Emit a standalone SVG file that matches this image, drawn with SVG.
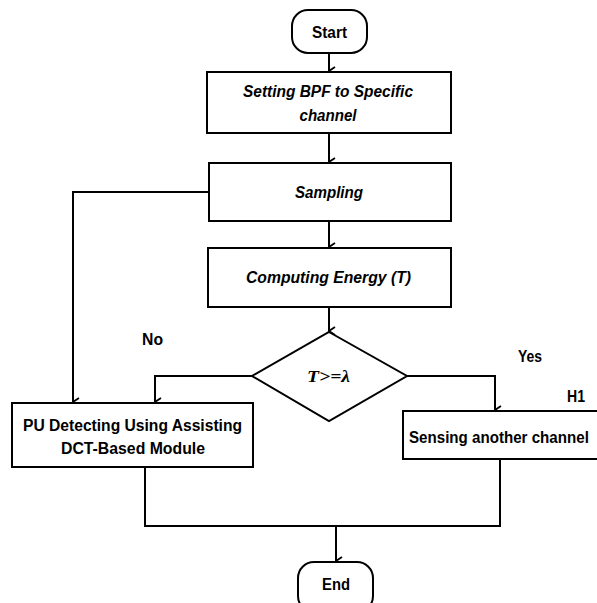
<svg xmlns="http://www.w3.org/2000/svg" width="597" height="603" viewBox="0 0 597 603">
<style>
.box{fill:#fff;stroke:#000;stroke-width:2}
.ln{fill:none;stroke:#000;stroke-width:2}
.t{font-family:"Liberation Sans",Arial,sans-serif;font-weight:bold;font-size:16px;fill:#000}
.ti{font-style:italic}
.c{text-anchor:middle}
</style>
<defs>
<marker id="ah" markerWidth="10" markerHeight="10" refX="5" refY="9" orient="auto" markerUnits="userSpaceOnUse" viewBox="0 0 10 10">
<path d="M1 3 L5 9 L9 3" fill="none" stroke="#000" stroke-width="1.8"/>
</marker>
</defs>
<rect width="597" height="603" fill="#fff"/>
<g id="connectors">
<line class="ln" x1="329" y1="53" x2="329" y2="71" marker-end="url(#ah)"/>
<line class="ln" x1="329" y1="133" x2="329" y2="162" marker-end="url(#ah)"/>
<line class="ln" x1="329" y1="221" x2="329" y2="247" marker-end="url(#ah)"/>
<line class="ln" x1="329" y1="307" x2="329" y2="331" marker-end="url(#ah)"/>
<polyline class="ln" points="209,192 73,192 73,402" marker-end="url(#ah)"/>
<polyline class="ln" points="252,376 155,376 155,402" marker-end="url(#ah)"/>
<polyline class="ln" points="407,376 495,376 495,410" marker-end="url(#ah)"/>
<polyline class="ln" points="145,467 145,526 500,526 500,459"/>
<line class="ln" x1="336" y1="526" x2="336" y2="561" marker-end="url(#ah)"/>
<text class="t" x="142" y="345" textLength="21" lengthAdjust="spacingAndGlyphs">No</text>
<text class="t" x="518" y="362" textLength="24" lengthAdjust="spacingAndGlyphs">Yes</text>
<text class="t" x="567" y="402" textLength="18" lengthAdjust="spacingAndGlyphs">H1</text>
</g>
<g id="start">
<rect class="box" x="292" y="10" width="75" height="43" rx="16"/>
<text class="t c" x="329.5" y="38" textLength="35" lengthAdjust="spacingAndGlyphs">Start</text>
</g>
<g id="setting">
<rect class="box" x="207" y="72" width="244" height="61"/>
<text class="t ti c" x="328" y="97" textLength="170" lengthAdjust="spacingAndGlyphs">Setting BPF to Specific</text>
<text class="t ti c" x="328" y="121" textLength="57" lengthAdjust="spacingAndGlyphs">channel</text>
</g>
<g id="sampling">
<rect class="box" x="209" y="163" width="242" height="58"/>
<text class="t ti c" x="329" y="198" textLength="68" lengthAdjust="spacingAndGlyphs">Sampling</text>
</g>
<g id="computing">
<rect class="box" x="208" y="248" width="243" height="59"/>
<text class="t ti c" x="328.5" y="283" textLength="165" lengthAdjust="spacingAndGlyphs">Computing Energy (T)</text>
</g>
<g id="decision">
<polygon class="box" points="329,332 407,376 329,421 252,376"/>
<text x="328.5" y="382" text-anchor="middle" font-family="Liberation Serif,'Times New Roman',serif" font-size="17" font-style="italic" font-weight="bold" textLength="43" lengthAdjust="spacingAndGlyphs">T&gt;=λ</text>
</g>
<g id="pu">
<rect class="box" x="12" y="403" width="241" height="64"/>
<text class="t c" x="132.5" y="431" textLength="219" lengthAdjust="spacingAndGlyphs">PU Detecting Using Assisting</text>
<text class="t c" x="133" y="454" textLength="144" lengthAdjust="spacingAndGlyphs">DCT-Based Module</text>
</g>
<g id="sensing">
<rect class="box" x="403" y="411" width="200" height="48"/>
<text class="t" transform="translate(409,443) scale(0.946,1)" x="0" y="0">Sensing another channel</text>
</g>
<g id="end">
<rect class="box" x="298" y="562" width="75" height="50" rx="16"/>
<text class="t c" x="336" y="590" textLength="28" lengthAdjust="spacingAndGlyphs">End</text>
</g>
</svg>
